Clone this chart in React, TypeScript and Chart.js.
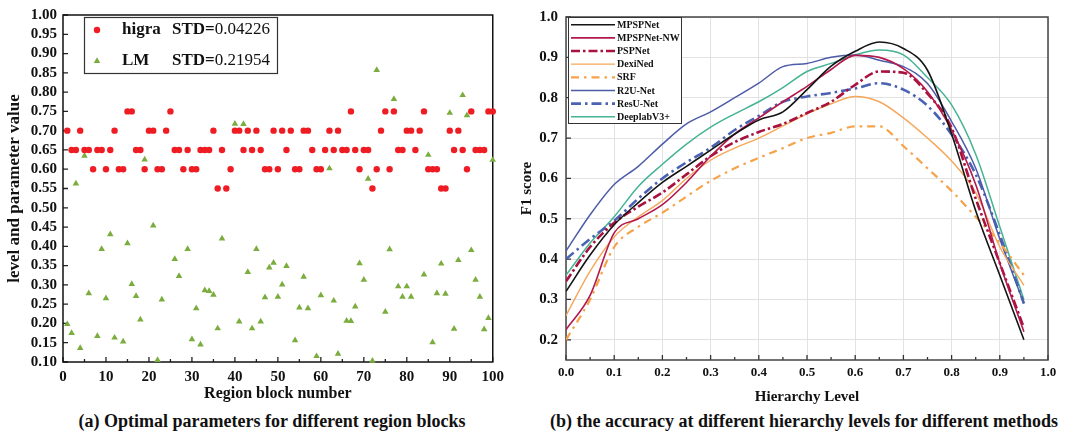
import React, { useEffect, useRef } from "react";
import { Chart, registerables } from "chart.js";

Chart.register(...registerables);

const SERIF = "'Liberation Serif', 'DejaVu Serif', serif";

// ---------------- Panel (a) data ----------------
const higraValues: number[] = [
  0.70, 0.65, 0.65, 0.70, 0.65, 0.65, 0.60, 0.65, 0.65, 0.60,
  0.65, 0.70, 0.60, 0.60, 0.75, 0.75, 0.65, 0.65, 0.60, 0.70,
  0.70, 0.60, 0.60, 0.70, 0.75, 0.65, 0.65, 0.60, 0.65, 0.60,
  0.60, 0.65, 0.65, 0.65, 0.70, 0.55, 0.65, 0.55, 0.60, 0.70,
  0.70, 0.65, 0.70, 0.65, 0.70, 0.65, 0.60, 0.60, 0.70, 0.60,
  0.70, 0.65, 0.70, 0.60, 0.60, 0.70, 0.70, 0.65, 0.60, 0.60,
  0.65, 0.70, 0.65, 0.70, 0.65, 0.65, 0.75, 0.65, 0.60, 0.65,
  0.65, 0.55, 0.60, 0.70, 0.75, 0.60, 0.75, 0.65, 0.65, 0.70,
  0.70, 0.65, 0.70, 0.75, 0.60, 0.60, 0.60, 0.55, 0.55, 0.70,
  0.65, 0.70, 0.65, 0.60, 0.75, 0.65, 0.65, 0.65, 0.75, 0.75,
];

const lmValues: (number | null)[] = [
  0.198, 0.175, 0.563, 0.136, 0.635, 0.278, null, 0.167, 0.393, 0.265,
  0.431, 0.163, null, 0.153, 0.408, 0.302, 0.271, 0.210, 0.625, null,
  0.454, 0.105, 0.262, null, null, 0.367, 0.323, null, 0.393, 0.159,
  0.239, 0.145, 0.286, 0.284, 0.274, 0.187, 0.420, null, null, 0.718,
  0.205, 0.717, 0.333, 0.187, 0.393, 0.205, 0.268, 0.345, 0.357, 0.269,
  0.301, 0.349, null, 0.156, 0.241, 0.321, 0.239, null, 0.115, 0.273,
  null, 0.602, 0.259, 0.121, null, 0.207, 0.206, 0.244, 0.356, 0.313,
  0.575, 0.103, 0.857, null, 0.230, 0.392, 0.782, 0.296, 0.269, 0.296,
  0.269, null, null, 0.327, 0.637, 0.151, 0.278, 0.355, 0.277, 0.746,
  0.186, 0.364, 0.792, 0.740, 0.390, 0.313, 0.269, 0.185, 0.214, 0.624,
];

const scatterNames = ["higra", "LM"];
const scatterStd = ["0.04226", "0.21954"];

const blockTicks = [0, 10, 20, 30, 40, 50, 60, 70, 80, 90, 100];
const blockMinorTicks = [5, 15, 25, 35, 45, 55, 65, 75, 85, 95];
const paramTicks = [
  0.10, 0.15, 0.20, 0.25, 0.30, 0.35, 0.40, 0.45, 0.50, 0.55,
  0.60, 0.65, 0.70, 0.75, 0.80, 0.85, 0.90, 0.95, 1.00,
];

// ---------------- Panel (b) data ----------------
const hierarchyLevels = [
  0.0, 0.05, 0.1, 0.15, 0.2, 0.25, 0.3, 0.35, 0.4, 0.45,
  0.5, 0.55, 0.6, 0.65, 0.7, 0.75, 0.8, 0.85, 0.9, 0.95,
];

const methodNames = [
  "MPSPNet", "MPSPNet-NW", "PSPNet", "DexiNed", "SRF", "R2U-Net", "ResU-Net", "DeeplabV3+",
];

const f1MPSPNet = [0.32, 0.41, 0.485, 0.54, 0.59, 0.63, 0.67, 0.71, 0.745, 0.765, 0.82, 0.878, 0.915, 0.938, 0.922, 0.868, 0.71, 0.52, 0.36, 0.2];
const f1MPSPNetNW = [0.225, 0.31, 0.465, 0.5, 0.535, 0.59, 0.655, 0.71, 0.75, 0.79, 0.828, 0.87, 0.905, 0.9, 0.872, 0.815, 0.72, 0.585, 0.39, 0.22];
const f1PSPNet = [0.345, 0.43, 0.49, 0.53, 0.565, 0.61, 0.655, 0.69, 0.715, 0.735, 0.762, 0.79, 0.832, 0.865, 0.862, 0.81, 0.725, 0.55, 0.39, 0.23];
const f1DexiNed = [0.26, 0.37, 0.455, 0.505, 0.545, 0.6, 0.645, 0.675, 0.7, 0.73, 0.76, 0.785, 0.803, 0.79, 0.75, 0.7, 0.643, 0.565, 0.43, 0.335];
const f1SRF = [0.2, 0.3, 0.43, 0.48, 0.515, 0.555, 0.594, 0.625, 0.651, 0.675, 0.7, 0.713, 0.729, 0.729, 0.68, 0.625, 0.569, 0.505, 0.44, 0.36];
const f1R2UNet = [0.42, 0.51, 0.585, 0.63, 0.685, 0.735, 0.765, 0.8, 0.836, 0.877, 0.885, 0.9, 0.906, 0.893, 0.877, 0.835, 0.741, 0.625, 0.45, 0.29];
const f1ResUNet = [0.4, 0.45, 0.495, 0.55, 0.6, 0.64, 0.676, 0.72, 0.755, 0.79, 0.803, 0.812, 0.823, 0.836, 0.82, 0.78, 0.709, 0.61, 0.46, 0.29];
const f1DeeplabV3 = [0.36, 0.44, 0.505, 0.58, 0.635, 0.685, 0.727, 0.76, 0.79, 0.825, 0.865, 0.885, 0.906, 0.918, 0.906, 0.85, 0.782, 0.66, 0.48, 0.3];

const methodSeries = [f1MPSPNet, f1MPSPNetNW, f1PSPNet, f1DexiNed, f1SRF, f1R2UNet, f1ResUNet, f1DeeplabV3];

const levelTicks = [0.0, 0.1, 0.2, 0.3, 0.4, 0.5, 0.6, 0.7, 0.8, 0.9, 1.0];
const levelMinorTicks = [0.05, 0.15, 0.25, 0.35, 0.45, 0.55, 0.65, 0.75, 0.85, 0.95];
const f1Ticks = [0.2, 0.3, 0.4, 0.5, 0.6, 0.7, 0.8, 0.9, 1.0];

// styles (kept separate from data)
const methodStyles = [
  { color: "#141414", dash: [] as number[], width: 1.6 },
  { color: "#b3194c", dash: [] as number[], width: 1.6 },
  { color: "#a8123f", dash: [9, 3, 2.5, 3], width: 2.6 },
  { color: "#f6a75a", dash: [] as number[], width: 1.4 },
  { color: "#f6a24a", dash: [8, 5, 2.5, 5], width: 2.2 },
  { color: "#4c5ca8", dash: [] as number[], width: 1.5 },
  { color: "#4a62b3", dash: [10, 4, 2.5, 4], width: 2.6 },
  { color: "#45b394", dash: [] as number[], width: 1.5 },
];

const RED = "#ef1c24";
const GREEN = "#7aad3e";

function makeFramePlugin(cfg: {
  xMajor: number[]; xMinor: number[]; yMajor: number[]; yMinor: number[];
  majorLen: number; minorLen: number; tickColor: string; boxColor: string; boxWidth: number;
}) {
  return {
    id: "frameTicks",
    beforeDatasetsDraw(chart: any) {
      const { ctx, chartArea: a, scales } = chart;
      ctx.save();
      ctx.strokeStyle = cfg.tickColor;
      ctx.lineWidth = 1.3;
      ctx.beginPath();
      for (const v of cfg.xMajor) {
        const p = scales.x.getPixelForValue(v);
        ctx.moveTo(p, a.bottom);
        ctx.lineTo(p, a.bottom - cfg.majorLen);
      }
      for (const v of cfg.xMinor) {
        const p = scales.x.getPixelForValue(v);
        ctx.moveTo(p, a.bottom);
        ctx.lineTo(p, a.bottom - cfg.minorLen);
      }
      for (const v of cfg.yMajor) {
        const p = scales.y.getPixelForValue(v);
        ctx.moveTo(a.left, p);
        ctx.lineTo(a.left + cfg.majorLen, p);
      }
      for (const v of cfg.yMinor) {
        const p = scales.y.getPixelForValue(v);
        ctx.moveTo(a.left, p);
        ctx.lineTo(a.left + cfg.minorLen, p);
      }
      ctx.stroke();
      ctx.strokeStyle = cfg.boxColor;
      ctx.lineWidth = cfg.boxWidth;
      ctx.strokeRect(a.left, a.top, a.right - a.left, a.bottom - a.top);
      ctx.restore();
    },
  };
}

const scatterLegendPlugin = {
  id: "scatterLegend",
  afterDraw(chart: any) {
    const ctx: CanvasRenderingContext2D = chart.ctx;
    ctx.save();
    ctx.fillStyle = "#ffffff";
    ctx.fillRect(84.5, 17.5, 193, 56);
    ctx.strokeStyle = "#333333";
    ctx.lineWidth = 1.2;
    ctx.strokeRect(84.5, 17.5, 193, 56);
    const rowsY = [30, 61];
    scatterNames.forEach((name, i) => {
      const y = rowsY[i];
      if (i === 0) {
        ctx.fillStyle = RED;
        ctx.beginPath();
        ctx.arc(97, y, 3.2, 0, Math.PI * 2);
        ctx.fill();
      } else {
        ctx.fillStyle = GREEN;
        const r = 3.8;
        ctx.beginPath();
        ctx.moveTo(97, y - r);
        ctx.lineTo(97 + r * 0.866, y + r * 0.5);
        ctx.lineTo(97 - r * 0.866, y + r * 0.5);
        ctx.closePath();
        ctx.fill();
      }
      ctx.fillStyle = "#111111";
      ctx.textBaseline = "middle";
      ctx.font = `bold 17px ${SERIF}`;
      ctx.fillText(name, 122, y);
      const sx = 172;
      ctx.fillText("STD=", sx, y);
      const w = ctx.measureText("STD=").width;
      ctx.font = `17px ${SERIF}`;
      ctx.fillText(scatterStd[i], sx + w, y);
    });
    ctx.restore();
  },
};

const lineLegendPlugin = {
  id: "lineLegend",
  afterDraw(chart: any) {
    const ctx: CanvasRenderingContext2D = chart.ctx;
    ctx.save();
    const left = 58.5, top = 17.5, w = 113, h = 106;
    ctx.fillStyle = "#ffffff";
    ctx.fillRect(left, top, w, h);
    ctx.strokeStyle = "#333333";
    ctx.lineWidth = 1;
    ctx.strokeRect(left, top, w, h);
    methodNames.forEach((name, i) => {
      const y = 24.7 + i * 13.15;
      const st = methodStyles[i];
      ctx.strokeStyle = st.color;
      ctx.lineWidth = st.width;
      ctx.setLineDash(st.dash);
      ctx.beginPath();
      ctx.moveTo(61, y);
      ctx.lineTo(105, y);
      ctx.stroke();
      ctx.setLineDash([]);
      ctx.fillStyle = "#111111";
      ctx.textBaseline = "middle";
      ctx.font = `bold 10px ${SERIF}`;
      ctx.fillText(name, 107, y + 0.5);
    });
    ctx.restore();
  },
};

function ScatterPanel() {
  const ref = useRef<HTMLCanvasElement | null>(null);
  useEffect(() => {
    if (!ref.current) return;
    const chart = new Chart(ref.current, {
      type: "scatter",
      data: {
        datasets: [
          {
            label: scatterNames[0],
            data: higraValues.map((v, i) => ({ x: i + 1, y: v })),
            backgroundColor: RED,
            borderWidth: 0,
            pointRadius: 3.2,
            pointStyle: "circle",
          },
          {
            label: scatterNames[1],
            data: lmValues.map((v, i) => ({ x: i + 1, y: v })) as any,
            backgroundColor: GREEN,
            borderWidth: 0,
            pointRadius: 3.8,
            pointStyle: "triangle",
          },
        ],
      },
      options: {
        animation: false,
        responsive: false,
        maintainAspectRatio: false,
        layout: { padding: { left: 0, top: 13, right: 13, bottom: 0 } },
        plugins: { legend: { display: false }, tooltip: { enabled: false } },
        datasets: { scatter: { clip: false as any } },
        scales: {
          x: {
            type: "linear",
            min: 0,
            max: 100,
            afterFit: (s: any) => { s.height = 48; },
            afterBuildTicks: (s: any) => { s.ticks = blockTicks.map((v) => ({ value: v })); },
            grid: { display: false, drawTicks: false },
            border: { display: false },
            ticks: {
              padding: 6,
              color: "#111",
              font: { family: SERIF, size: 15, weight: "bold" },
              maxRotation: 0,
              autoSkip: false,
              callback: (v: any) => String(v),
            },
            title: {
              display: true,
              text: "Region block number",
              color: "#111",
              font: { family: SERIF, size: 16, weight: "bold" },
              padding: { top: 0, bottom: 7 },
            },
          },
          y: {
            type: "linear",
            min: 0.1,
            max: 1.0,
            afterFit: (s: any) => { s.width = 63; },
            afterBuildTicks: (s: any) => { s.ticks = paramTicks.map((v) => ({ value: v })); },
            grid: { display: false, drawTicks: false },
            border: { display: false },
            ticks: {
              padding: 6,
              color: "#111",
              font: { family: SERIF, size: 15, weight: "bold" },
              autoSkip: false,
              callback: (v: any) => Number(v).toFixed(2),
            },
            title: {
              display: true,
              text: "level and parameter value",
              color: "#111",
              font: { family: SERIF, size: 17, weight: "bold" },
              padding: { top: 4, bottom: 0 },
            },
          },
        },
      },
      plugins: [
        makeFramePlugin({
          xMajor: blockTicks, xMinor: blockMinorTicks, yMajor: paramTicks, yMinor: [],
          majorLen: 5, minorLen: 3, tickColor: "#222", boxColor: "#111", boxWidth: 1.5,
        }),
        scatterLegendPlugin,
      ],
    });
    return () => chart.destroy();
  }, []);
  return (
    <canvas
      ref={ref}
      width={510}
      height={410}
      style={{ position: "absolute", left: 0, top: 0, width: 510, height: 410 }}
    />
  );
}

function LinePanel() {
  const ref = useRef<HTMLCanvasElement | null>(null);
  useEffect(() => {
    if (!ref.current) return;
    const chart = new Chart(ref.current, {
      type: "line",
      data: {
        datasets: methodNames.map((name, k) => ({
          label: name,
          data: hierarchyLevels.map((x, i) => ({ x, y: methodSeries[k][i] })),
          borderColor: methodStyles[k].color,
          borderWidth: methodStyles[k].width,
          borderDash: methodStyles[k].dash,
          pointRadius: 0,
          fill: false,
          cubicInterpolationMode: "monotone" as const,
        })),
      },
      options: {
        animation: false,
        responsive: false,
        maintainAspectRatio: false,
        layout: { padding: { left: 0, top: 15, right: 19, bottom: 0 } },
        plugins: { legend: { display: false }, tooltip: { enabled: false } },
        scales: {
          x: {
            type: "linear",
            min: 0,
            max: 1,
            afterFit: (s: any) => { s.height = 50; },
            afterBuildTicks: (s: any) => { s.ticks = levelTicks.map((v) => ({ value: v })); },
            grid: { color: "#e2e2e2", lineWidth: 1, drawTicks: false },
            border: { display: false },
            ticks: {
              padding: 5,
              color: "#111",
              font: { family: SERIF, size: 13, weight: "bold" },
              maxRotation: 0,
              autoSkip: false,
              callback: (v: any) => Number(v).toFixed(1),
            },
            title: {
              display: true,
              text: "Hierarchy Level",
              color: "#111",
              font: { family: SERIF, size: 15, weight: "bold" },
              padding: { top: 0, bottom: 4 },
            },
          },
          y: {
            type: "linear",
            min: 0.15,
            max: 1.0,
            afterFit: (s: any) => { s.width = 56; },
            afterBuildTicks: (s: any) => { s.ticks = f1Ticks.map((v) => ({ value: v })); },
            grid: { color: "#e2e2e2", lineWidth: 1, drawTicks: false },
            border: { display: false },
            ticks: {
              padding: 8,
              color: "#111",
              font: { family: SERIF, size: 15, weight: "bold" },
              autoSkip: false,
              callback: (v: any) => Number(v).toFixed(1),
            },
            title: {
              display: true,
              text: "F1 score",
              color: "#111",
              font: { family: SERIF, size: 15, weight: "bold" },
              padding: { top: 8, bottom: 0 },
            },
          },
        },
      },
      plugins: [
        makeFramePlugin({
          xMajor: levelTicks, xMinor: levelMinorTicks, yMajor: f1Ticks, yMinor: [],
          majorLen: 5, minorLen: 3, tickColor: "#333", boxColor: "#444", boxWidth: 1.5,
        }),
        lineLegendPlugin,
      ],
    });
    return () => chart.destroy();
  }, []);
  return (
    <canvas
      ref={ref}
      width={557}
      height={410}
      style={{ position: "absolute", left: 510, top: 0, width: 557, height: 410 }}
    />
  );
}

const captionStyle: React.CSSProperties = {
  position: "absolute",
  top: 410,
  fontFamily: SERIF,
  fontWeight: "bold",
  fontSize: 18,
  lineHeight: "22px",
  color: "#111",
  whiteSpace: "nowrap",
  transform: "translateX(-50%)",
};

export default function App() {
  return (
    <div
      style={{
        position: "absolute",
        left: 0,
        top: 0,
        width: 1067,
        height: 437,
        background: "#ffffff",
        overflow: "hidden",
      }}
    >
      <ScatterPanel />
      <LinePanel />
      <div style={{ ...captionStyle, left: 272 }}>
        (a) Optimal parameters for different region blocks
      </div>
      <div style={{ ...captionStyle, left: 804 }}>
        (b) the accuracy at different hierarchy levels for different methods
      </div>
    </div>
  );
}
